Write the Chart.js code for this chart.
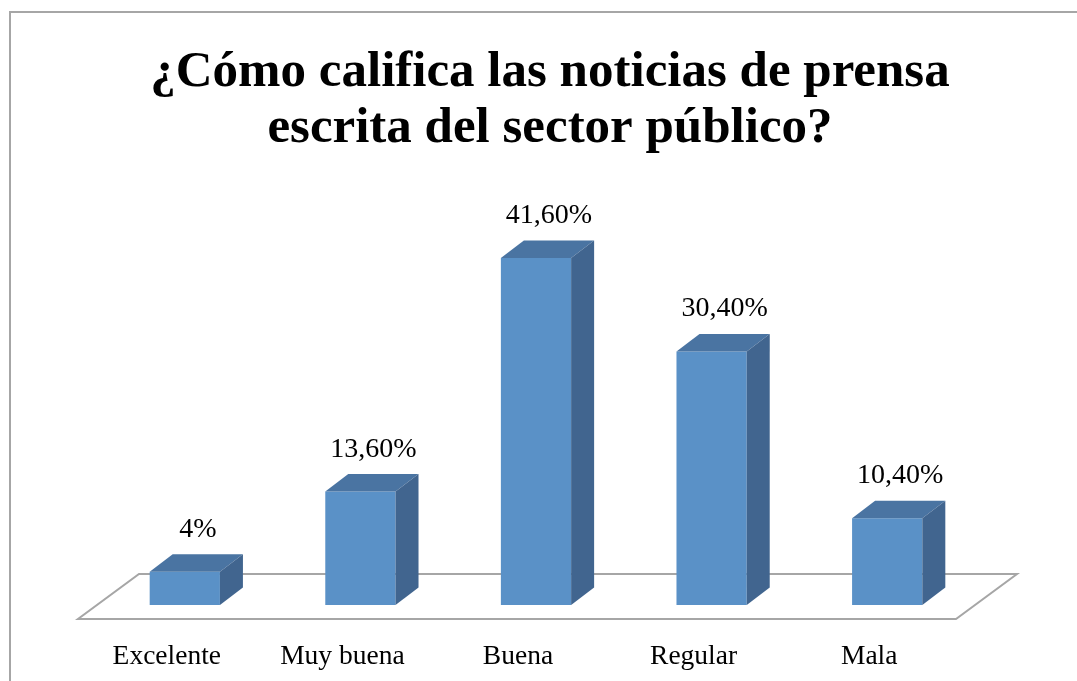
<!DOCTYPE html>
<html lang="es">
  <head>
    <meta charset="UTF-8" />
    <title>Noticias de prensa escrita</title>
    <style>
      html, body { margin: 0; padding: 0; background: #fff; }
      #wrap { width: 1077px; height: 681px; position: relative; }
    </style>
  </head>
  <body>
    <div id="wrap">
      <canvas id="myChart"></canvas>
    </div>

    <script src="https://cdn.jsdelivr.net/npm/chart.js@4/dist/chart.umd.min.js"></script>
    <script>
      var categories = ["Excelente", "Muy buena", "Buena", "Regular", "Mala"];
      var percentages = [4, 13.6, 41.6, 30.4, 10.4];
      var titleLines = ["¿Cómo califica las noticias de prensa", "escrita del sector público?"];

      // depth of the bars and of the floor (fake 3D)
      var barDepth = { dx: 23, dy: -17.5 };
      var floorFront = { dx: -19, dy: 14 };
      var floorBack = { dx: 42, dy: -31 };

      function formatPct(v) {
        if (v % 1 === 0) return v + "%";
        return v.toFixed(2).replace(".", ",") + "%";
      }

      var frameAndTitle = {
        id: "frameAndTitle",
        beforeDraw: function (chart) {
          var ctx = chart.ctx;
          ctx.save();
          ctx.strokeStyle = "#a6a6a6";
          ctx.lineWidth = 2;
          ctx.strokeRect(10, 12, 1200, 1000);

          ctx.fillStyle = "#000";
          ctx.font = "bold 51px 'Liberation Serif'";
          ctx.textAlign = "center";
          ctx.textBaseline = "alphabetic";
          ctx.fillText(titleLines[0], 550, 86);
          ctx.fillText(titleLines[1], 550, 142);
          ctx.restore();
        },
        beforeDatasetsDraw: function (chart) {
          // floor
          var ctx = chart.ctx;
          var area = chart.chartArea;
          var y0 = chart.scales.y.getPixelForValue(0);
          ctx.save();
          ctx.beginPath();
          ctx.moveTo(area.left + floorFront.dx, y0 + floorFront.dy);
          ctx.lineTo(area.right + floorFront.dx, y0 + floorFront.dy);
          ctx.lineTo(area.right + floorBack.dx, y0 + floorBack.dy);
          ctx.lineTo(area.left + floorBack.dx, y0 + floorBack.dy);
          ctx.closePath();
          ctx.fillStyle = "#fff";
          ctx.fill();
          ctx.strokeStyle = "#a6a6a6";
          ctx.lineWidth = 2;
          ctx.stroke();
          ctx.restore();
        },
        afterDatasetsDraw: function (chart) {
          var ctx = chart.ctx;
          var meta = chart.getDatasetMeta(0);
          ctx.save();
          meta.data.forEach(function (bar, i) {
            var l = bar.x - bar.width / 2;
            var r = bar.x + bar.width / 2;
            var t = bar.y;
            var b = bar.base;
            // top face
            ctx.beginPath();
            ctx.moveTo(l, t);
            ctx.lineTo(r, t);
            ctx.lineTo(r + barDepth.dx, t + barDepth.dy);
            ctx.lineTo(l + barDepth.dx, t + barDepth.dy);
            ctx.closePath();
            ctx.fillStyle = "#4a74a2";
            ctx.fill();
            // side face
            ctx.beginPath();
            ctx.moveTo(r, t);
            ctx.lineTo(r + barDepth.dx, t + barDepth.dy);
            ctx.lineTo(r + barDepth.dx, b + barDepth.dy);
            ctx.lineTo(r, b);
            ctx.closePath();
            ctx.fillStyle = "#41658f";
            ctx.fill();

            // value label
            ctx.fillStyle = "#000";
            ctx.font = "28px 'Liberation Serif'";
            ctx.textAlign = "center";
            ctx.textBaseline = "alphabetic";
            ctx.fillText(formatPct(percentages[i]), bar.x + 13, t - 35);
          });

          // category labels on the front edge of the floor
          var xs = chart.scales.x;
          var y0 = chart.scales.y.getPixelForValue(0);
          ctx.font = "27.5px 'Liberation Serif'";
          ctx.textBaseline = "alphabetic";
          categories.forEach(function (c, i) {
            ctx.fillText(c, xs.getPixelForValue(i) - 18, y0 + 59);
          });
          ctx.restore();
        },
      };

      var ctx = document.getElementById("myChart").getContext("2d");
      var myChart = new Chart(ctx, {
        type: "bar",
        data: {
          labels: categories,
          datasets: [
            {
              data: percentages,
              backgroundColor: "#5a91c7",
              borderWidth: 0,
              categoryPercentage: 1,
              barPercentage: 0.4,
            },
          ],
        },
        options: {
          responsive: true,
          maintainAspectRatio: false,
          animation: false,
          layout: {
            padding: { left: 97, right: 102, top: 188, bottom: 76 },
          },
          plugins: {
            legend: { display: false },
            title: { display: false },
            tooltip: { enabled: false },
          },
          scales: {
            x: { display: false },
            y: { display: false, min: 0, max: 50 },
          },
        },
        plugins: [frameAndTitle],
      });
    </script>
  </body>
</html>
